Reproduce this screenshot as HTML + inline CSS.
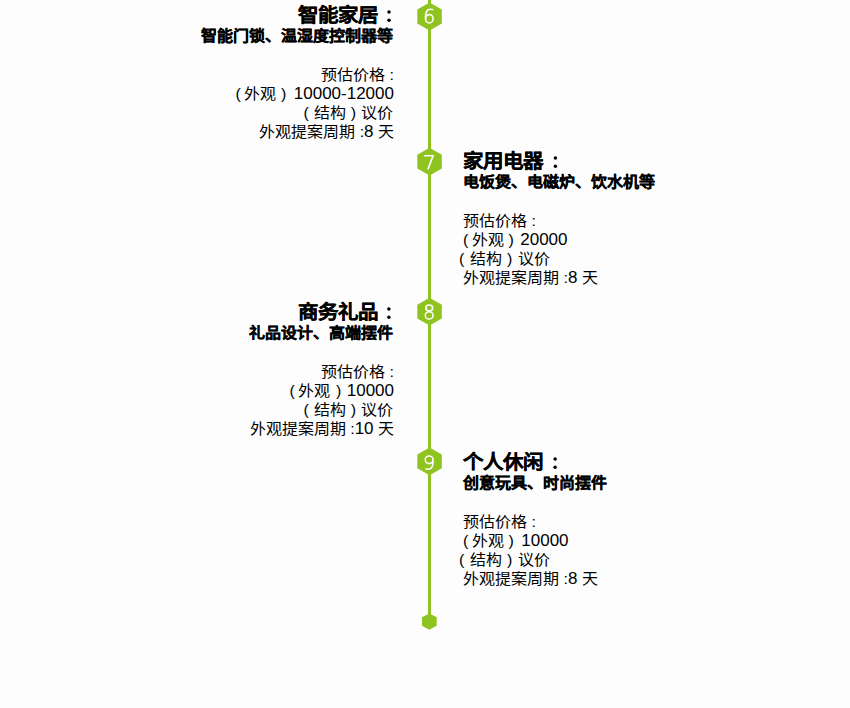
<!DOCTYPE html>
<html lang="zh-CN">
<head>
<meta charset="utf-8">
<style>
html,body{margin:0;padding:0;}
body{width:850px;height:708px;overflow:hidden;position:relative;background:#fdfdfd;font-family:"Liberation Sans",sans-serif;color:#000;}
.ln{position:absolute;white-space:nowrap;}
.t{font-size:20.5px;font-weight:bold;line-height:24px;transform:scaleY(0.95);transform-origin:50% 50%;-webkit-text-stroke:0.28px #000;}
.t .c{margin-left:7px;}
.s{font-size:16px;font-weight:bold;line-height:20px;-webkit-text-stroke:0.25px #000;transform:scaleY(0.93);transform-origin:50% 50%;}
.b{font-size:16px;line-height:19px;transform:scaleY(0.94);transform-origin:50% 45%;}
.o{margin-right:3.45px;}
.cp{margin-left:4.75px;margin-right:5.05px;}
.n{font-size:17px;letter-spacing:0;}
.o3{margin-right:5px;}
.o3b{margin-right:6px;}
.cp3{margin-right:6px;}
.n1{margin-left:3.4px;}
.n2{margin-left:0.35px;}
svg{position:absolute;left:0;top:0;}
</style>
</head>
<body>
<svg width="850" height="708" viewBox="0 0 850 708">
  <rect x="428" y="0" width="3" height="618" fill="#8fc31f"/>
  <g fill="#8fc31f">
    <polygon points="417.3,9.6 429.55,2.6 441.8,9.6 441.8,23.6 429.55,30.6 417.3,23.6"/>
    <polygon points="417.3,154.8 429.55,147.7 441.8,154.8 441.8,168.5 429.55,175.6 417.3,168.5"/>
    <polygon points="417.3,304.8 429.55,297.7 441.8,304.8 441.8,318.5 429.55,325.6 417.3,318.5"/>
    <polygon points="417.3,454.5 429.55,447.4 441.8,454.5 441.8,468.2 429.55,475.3 417.3,468.2"/>
    <polygon points="422,617.3 429.35,613.5 436.7,617.3 436.7,625.8 429.35,629.8 422,625.8"/>
  </g>
  <g fill="#000">
    <circle cx="389" cy="12.1" r="1.75"/><circle cx="389" cy="20.3" r="1.75"/>
    <circle cx="555.4" cy="158.1" r="1.75"/><circle cx="555.4" cy="166.2" r="1.75"/>
    <circle cx="388.9" cy="309" r="1.75"/><circle cx="388.9" cy="317.2" r="1.75"/>
    <circle cx="555.1" cy="458.9" r="1.75"/><circle cx="555.1" cy="467.2" r="1.75"/>
  </g>
  <g fill="none" stroke="#fff" stroke-width="1.6">
    <!-- 6 -->
    <ellipse cx="429.3" cy="18.8" rx="3.8" ry="4.2"/>
    <path d="M433.1,9.9 C432.3,9.4 431.2,9.2 430.2,9.2 C427.3,9.2 425.5,12 425.5,17.5 L425.5,18.8"/>
    <!-- 7 -->
    <path d="M424.1,155.7 L433.1,155.7 L427.85,169.4"/>
    <!-- 8 -->
    <ellipse cx="429.25" cy="308.0" rx="3.4" ry="2.95"/>
    <ellipse cx="429.2" cy="315.4" rx="3.9" ry="3.6"/>
    <!-- 9 -->
    <ellipse cx="429.1" cy="459.8" rx="3.9" ry="3.8"/>
    <path d="M433,460 L433,461.5 C433,466.5 430.8,469.3 428,469.3 C426.9,469.3 426,469 425.3,468.6"/>
  </g>
</svg>

<!-- block 1 -->
<div class="ln t" style="left:298px;top:3px">智能家居</div>
<div class="ln s" style="right:457px;top:26px">智能门锁、温湿度控制器等</div>
<div class="ln b" style="right:456px;top:65px">预估价格 :</div>
<div class="ln b" style="right:456px;top:84px"><span class="o">(</span>外观<span class="cp">)</span><span class="n" style="margin-left:2.4px">10000-12000</span></div>
<div class="ln b" style="right:457px;top:103px"><span class="o o3">(</span>结构<span class="cp">)</span>议价</div>
<div class="ln b" style="right:456px;top:122px">外观提案周期 :<span class="n">8</span> 天</div>

<!-- block 2 -->
<div class="ln t" style="left:463px;top:149px">家用电器</div>
<div class="ln s" style="left:463px;top:172px">电饭煲、电磁炉、饮水机等</div>
<div class="ln b" style="left:463px;top:211px">预估价格 :</div>
<div class="ln b" style="left:463px;top:230px"><span class="o">(</span>外观<span class="cp">)</span><span class="n" style="margin-left:1.35px">20000</span></div>
<div class="ln b" style="left:459px;top:249px"><span class="o o3b">(</span>结构<span class="cp cp3">)</span>议价</div>
<div class="ln b" style="left:463px;top:268px">外观提案周期 :<span class="n">8</span> 天</div>

<!-- block 3 -->
<div class="ln t" style="left:298px;top:300px">商务礼品</div>
<div class="ln s" style="right:457px;top:323px">礼品设计、高端摆件</div>
<div class="ln b" style="right:456px;top:362px">预估价格 :</div>
<div class="ln b" style="right:456px;top:381px"><span class="o">(</span>外观<span class="cp" style="margin-left:5.75px">)</span><span class="n" style="margin-left:0.4px">10000</span></div>
<div class="ln b" style="right:457px;top:400px"><span class="o o3">(</span>结构<span class="cp">)</span>议价</div>
<div class="ln b" style="right:456px;top:419px">外观提案周期 :<span class="n">10</span> 天</div>

<!-- block 4 -->
<div class="ln t" style="left:463px;top:450px">个人休闲</div>
<div class="ln s" style="left:463px;top:473px">创意玩具、时尚摆件</div>
<div class="ln b" style="left:463px;top:512px">预估价格 :</div>
<div class="ln b" style="left:463px;top:531px"><span class="o">(</span>外观<span class="cp">)</span><span class="n" style="margin-left:2.4px">10000</span></div>
<div class="ln b" style="left:459px;top:550px"><span class="o o3b">(</span>结构<span class="cp cp3">)</span>议价</div>
<div class="ln b" style="left:463px;top:569px">外观提案周期 :<span class="n">8</span> 天</div>
</body>
</html>
